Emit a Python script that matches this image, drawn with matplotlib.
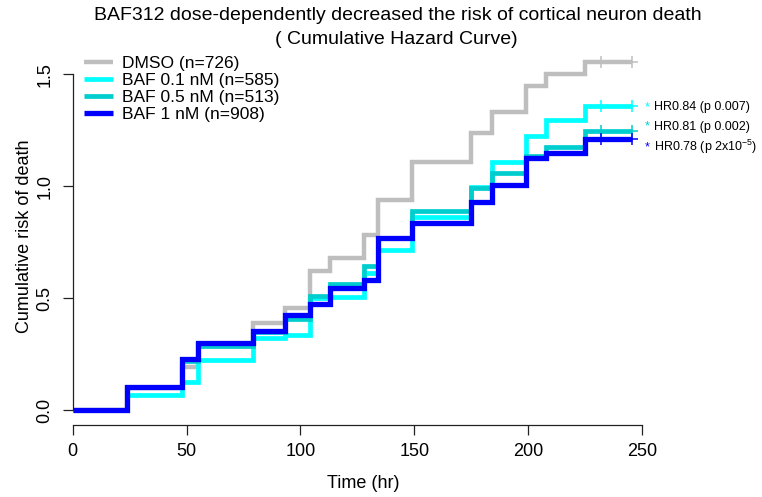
import matplotlib
matplotlib.use("Agg")
import matplotlib.pyplot as plt

plt.rcParams['font.family'] = ['Liberation Sans', 'DejaVu Sans']
plt.rcParams['mathtext.fontset'] = 'custom'
plt.rcParams['mathtext.rm'] = 'Liberation Sans'

# Step times (hr) and cumulative hazard after each time
times = [0, 24, 48, 55, 79, 93, 104, 113, 128, 134, 149, 175, 184, 199, 208, 225, 245.5]
dmso   = [0, 0.10, 0.19, 0.29, 0.39, 0.455, 0.62, 0.68, 0.78, 0.94, 1.11, 1.236, 1.333, 1.45, 1.50, 1.556, 1.556]
baf01  = [0, 0.067, 0.125, 0.225, 0.32, 0.335, 0.50, 0.506, 0.613, 0.715, 0.861, 0.995, 1.11, 1.224, 1.295, 1.36, 1.36]
baf05  = [0, 0.104, 0.22, 0.286, 0.35, 0.405, 0.51, 0.563, 0.645, 0.77, 0.889, 0.993, 1.06, 1.136, 1.174, 1.248, 1.248]
baf1   = [0, 0.104, 0.226, 0.298, 0.354, 0.424, 0.474, 0.544, 0.581, 0.767, 0.837, 0.931, 1.005, 1.125, 1.15, 1.21, 1.21]
censor_times = [232, 245.5]

labels = ['DMSO (n=726)', 'BAF 0.1 nM (n=585)', 'BAF 0.5 nM (n=513)', 'BAF 1 nM (n=908)']
colors = ['#BEBEBE', '#00FFFF', '#00CDCD', '#0000FF']
widths = [3.2, 3.4, 3.4, 3.8]
hr_text = ['HR0.84 (p 0.007)', 'HR0.81 (p 0.002)', r'HR0.78 (p $\mathregular{2x10^{-5}}$)']
hr_y = [1.354, 1.265, 1.175]

x_ticks = [0, 50, 100, 150, 200, 250]
y_ticks = [0.0, 0.5, 1.0, 1.5]
y_ticklabels = ['0.0', '0.5', '1.0', '1.5']

fig = plt.figure(figsize=(7.62, 4.97), dpi=100)
ax = fig.add_axes([0.0954, 0.1449, 0.7616, 0.7605])

series = [dmso, baf01, baf05, baf1]
for vals, col, lw, lab in zip(series, colors, widths, labels):
    ax.step(times, vals, where='post', color=col, lw=lw, label=lab,
            solid_joinstyle='miter', solid_capstyle='butt')
    cy = [vals[-1] for _ in censor_times]
    ax.plot(censor_times, cy, linestyle='none', marker='+', ms=8, mew=1.1, color=col)

ax.set_xlim(0, 254.8)
ax.set_ylim(-0.067, 1.622)

for s in ['top', 'right']:
    ax.spines[s].set_visible(False)
ax.spines['left'].set_bounds(0, 1.5)
ax.spines['bottom'].set_bounds(0, 250)
for s in ['left', 'bottom']:
    ax.spines[s].set_color('#222222')
    ax.spines[s].set_linewidth(0.9)

ax.set_xticks(x_ticks)
ax.set_xticklabels([str(t) for t in x_ticks])
ax.set_yticks(y_ticks)
ax.set_yticklabels(y_ticklabels, rotation=90, va='center')
ax.tick_params(axis='both', direction='out', length=7, width=0.9, color='#222222',
               labelsize=13)
ax.tick_params(axis='x', pad=6)
ax.tick_params(axis='y', pad=7)

ax.set_xlabel('Time (hr)', fontsize=13, labelpad=11)
ax.set_ylabel('Cumulative risk of death', fontsize=13, labelpad=2)

fig.text(397.5 / 762, 1 - 19.5 / 497, 'BAF312 dose-dependently decreased the risk of cortical neuron death',
         ha='center', va='baseline', fontsize=14)
fig.text(396 / 762, 1 - 44 / 497, '( Cumulative Hazard Curve)',
         ha='center', va='baseline', fontsize=14)

leg = ax.legend(loc='upper left', bbox_to_anchor=((84 - 72.7) / 580.3, (425 - 56) / 378),
                frameon=False, fontsize=12.5, handlelength=1.65, handletextpad=0.55,
                labelspacing=0.1, borderpad=0, borderaxespad=0)

for txt, yv, col in zip(hr_text, hr_y, colors[1:]):
    ax.text(252.2, yv, '*', color=col, fontsize=9, ha='center', va='center', clip_on=False)
    ax.text(255.3, yv, txt, color='black', fontsize=9, ha='left', va='center', clip_on=False)

fig.savefig('out.png', dpi=100)
